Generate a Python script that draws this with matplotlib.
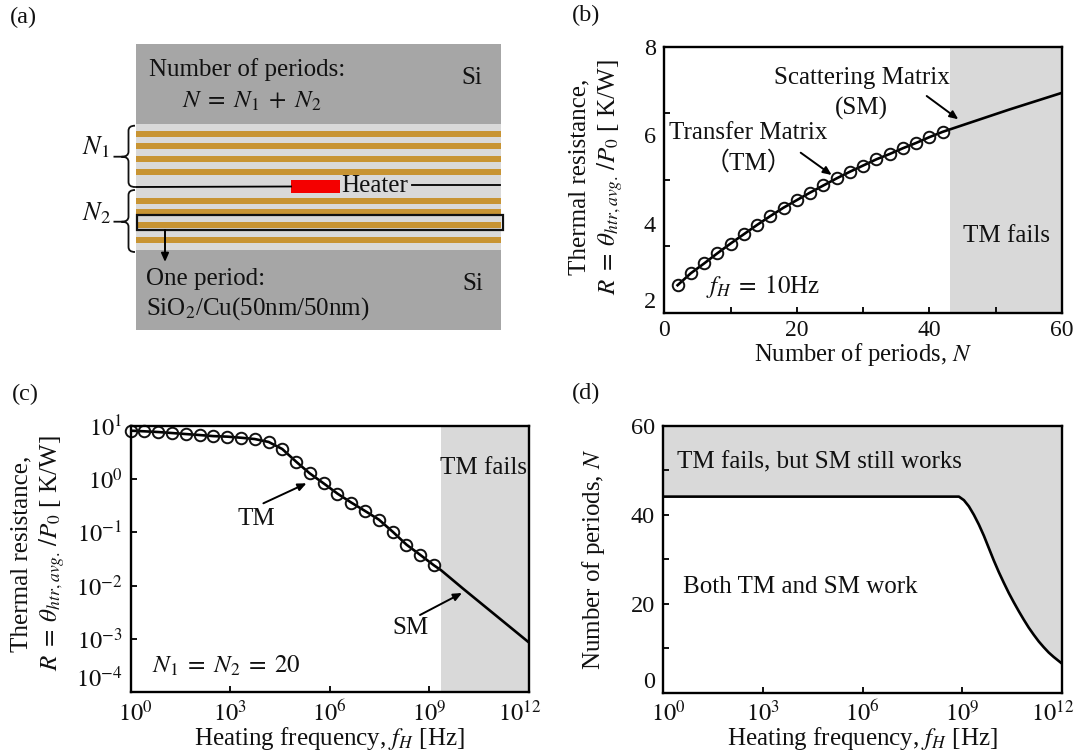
import numpy as np
import matplotlib
matplotlib.use("Agg")
import matplotlib.pyplot as plt
from matplotlib.patches import Rectangle, PathPatch
from matplotlib.path import Path
from matplotlib.transforms import ScaledTranslation

plt.rcParams['font.family'] = ['Liberation Serif', 'Noto Sans CJK SC', 'DejaVu Sans']
plt.rcParams['mathtext.fontset'] = 'stix'
plt.rcParams['axes.linewidth'] = 1.7

# ---- data ----
b_tm_N = [2, 4, 6, 8, 10, 12, 14, 16, 18, 20, 22, 24, 26, 28, 30, 32, 34, 36, 38, 40, 42]
b_tm_R = [2.62, 2.89, 3.11, 3.34, 3.56, 3.77, 3.98, 4.18, 4.37, 4.54, 4.71, 4.87, 5.03,
          5.18, 5.32, 5.46, 5.58, 5.71, 5.83, 5.96, 6.08]
b_sm_N = [43, 44, 48, 52, 56, 60]
b_sm_R = [6.13, 6.18, 6.38, 6.58, 6.77, 6.96]
b_fail_N = 43.1

c_tm_logf = [0.0, 0.42, 0.83, 1.25, 1.66, 2.08, 2.49, 2.91, 3.32, 3.74, 4.16, 4.57, 4.99,
             5.40, 5.82, 6.23, 6.65, 7.07, 7.48, 7.90, 8.31, 8.73, 9.14]
c_tm_logR = [0.912, 0.90, 0.887, 0.868, 0.849, 0.83, 0.81, 0.80, 0.78, 0.755, 0.70, 0.567, 0.328,
             0.108, -0.08, -0.27, -0.44, -0.60, -0.76, -0.99, -1.23, -1.425, -1.62]
c_sm_logf = [9.14, 9.35, 10.0, 11.0, 12.0]
c_sm_logR = [-1.62, -1.71, -2.05, -2.56, -3.07]
c_fail_logf = 9.35

d_logf = [0, 8.9, 9.05, 9.2, 9.35, 9.5, 9.65, 9.8, 9.95, 10.1, 10.25, 10.4, 10.55, 10.7,
          10.85, 11.0, 11.15, 11.3, 11.45, 11.6, 11.75, 11.9, 12.0]
d_N = [44.1, 44.1, 43.3, 41.9, 40.0, 37.8, 35.3, 32.5, 29.7, 27.1, 24.7, 22.4, 20.3, 18.3,
       16.4, 14.6, 13.0, 11.5, 10.2, 9.0, 8.0, 7.1, 6.5]

log_ticks = [0, 3, 6, 9, 12]
log_labels = ['$10^{0}$', '$10^{3}$', '$10^{6}$', '$10^{9}$', '$10^{12}$']
c_yticks = [1, 0, -1, -2, -3, -4]
c_ylabels = ['$10^{1}$', '$10^{0}$', '$10^{-1}$', '$10^{-2}$', '$10^{-3}$', '$10^{-4}$']

# diagram layout (a), in image pixels
gold_y = [134.3, 146.3, 159, 171.7, 200.7, 212, 225.3, 240]
GOLD, GREY, LIGHT = '#C89433', '#A6A6A6', '#D9D9D9'
SHADE = '#D9D9D9'

W, H = 1080, 756
fig = plt.figure(figsize=(W / 100, H / 100), dpi=100)
FS = 18
FST = 17.5
RLABEL = 'Thermal resistance,\n' + r'$R\;=\;\theta_{htr,avg.}\,/P_0$ [ K/W]'


def axpx(x0, x1, y0, y1):
    return fig.add_axes([x0 / W, 1 - y1 / H, (x1 - x0) / W, (y1 - y0) / H])


ov = fig.add_axes([0, 0, 1, 1], zorder=0)
ov.set_xlim(0, W); ov.set_ylim(H, 0); ov.axis('off')
top = fig.add_axes([0, 0, 1, 1], zorder=10)
top.set_xlim(0, W); top.set_ylim(H, 0); top.axis('off'); top.patch.set_alpha(0)


def T(x, y, s, ha='center', fs=FS, **kw):
    top.text(x, y, s, ha=ha, va='center', fontsize=fs, color='#111111', **kw)


def arrow(x0, y0, x1, y1, ax=top):
    ax.annotate('', xy=(x1, y1), xytext=(x0, y0),
                arrowprops=dict(arrowstyle='-|>,head_width=0.22,head_length=0.5', lw=1.4, color='k',
                                shrinkA=0, shrinkB=0))


def shift(label, dx=0, dy=0):
    label.set_transform(label.get_transform() + ScaledTranslation(dx / 100, -dy / 100, fig.dpi_scale_trans))


def style(ax):
    ax.tick_params(which='both', direction='in', length=4.5, width=1.4, labelsize=FST, pad=6, colors='#111111')
    for s in ax.spines.values():
        s.set_zorder(5)


# ---- (a) ----
ov.add_patch(Rectangle((136, 44), 365, 80, fc=GREY, ec='none'))
ov.add_patch(Rectangle((136, 124), 365, 126, fc=LIGHT, ec='none'))
ov.add_patch(Rectangle((136, 250), 365, 80, fc=GREY, ec='none'))
for y in gold_y:
    ov.add_patch(Rectangle((136, y - 2.9), 365, 5.8, fc=GOLD, ec='none'))
ov.add_patch(Rectangle((291, 179.5), 49, 13, fc='#F40000', ec='none'))
ov.plot([136, 291], [187, 186.5], color='k', lw=1.3)
ov.plot([411.5, 500], [185.3, 185.3], color='k', lw=1.3)
ov.add_patch(Rectangle((136.7, 215), 366, 15.3, fc='none', ec='#111111', lw=1.6))
arrow(165, 230, 165, 262, ov)


def brace(ytop, ybot, ytip):
    xr, xm, xl = 135, 128.5, 113.5
    verts = [(xr, ytop), (xm, ytop), (xm, ytop + 5), (xm, ytip - 5), (xm, ytip), (xl + 8, ytip), (xl, ytip),
             (xl + 8, ytip), (xm, ytip), (xm, ytip + 5), (xm, ybot - 5), (xm, ybot), (xr, ybot)]
    codes = [Path.MOVETO, Path.CURVE3, Path.CURVE3, Path.LINETO, Path.CURVE3, Path.CURVE3, Path.LINETO,
             Path.MOVETO, Path.CURVE3, Path.CURVE3, Path.LINETO, Path.CURVE3, Path.CURVE3]
    ov.add_patch(PathPatch(Path(verts, codes), fc='none', ec='#111111', lw=1.3))


brace(125.7, 187, 156.7)
brace(190, 252, 221.7)
T(96, 147, r'$\mathit{N}_{\mathit{1}}$', fs=19)
T(96, 213, r'$\mathit{N}_{\mathit{2}}$', fs=19)
T(149, 70, 'Number of periods:', ha='left')
T(182, 101, r'$N\;=\;N_1\;+\;N_2$', ha='left')
T(472, 78, 'Si')
T(473, 284, 'Si')
T(146, 279, 'One period:', ha='left')
T(146, 309, r'SiO$_2$/Cu(50nm/50nm)', ha='left')
T(341, 186, 'Heater', ha='left')

# ---- (b) ----
axb = axpx(664.3, 1062, 46.7, 312.7)
axb.axvspan(b_fail_N, 60, color=SHADE, lw=0, zorder=0)
axb.plot(b_tm_N + b_sm_N, b_tm_R + b_sm_R, color='k', lw=1.9, zorder=3, clip_on=True)
axb.plot(b_tm_N, b_tm_R, ls='none', marker='o', ms=8.3, mfc='none', mec='#111111', mew=1.4, zorder=4)
axb.set_xlim(0, 60); axb.set_ylim(2, 8)
axb.set_xticks([0, 10, 20, 30, 40, 50, 60], ['0', '', '20', '', '40', '', '60'])
axb.set_yticks([2, 4, 6, 8], ['2', '4', '6', '8'])
axb.set_yticks([3.5, 5, 6.5], minor=True)
style(axb)
axb.tick_params(axis='y', which='major', length=0)
axb.tick_params(axis='x', which='major', labelsize=17, pad=5)
axb.yaxis.get_ticklabels()[0].set_verticalalignment('bottom')
axb.set_xlabel('Number of periods, $N$', fontsize=17.7, labelpad=0.5, color='#111111')
axb.set_ylabel(RLABEL, fontsize=FS, color='#111111', linespacing=1.2)
axb.yaxis.set_label_coords(-0.10, 0.51)
T(861.7, 78, 'Scattering Matrix')
T(861.7, 108, '(SM)')
T(748, 133, 'Transfer Matrix')
T(748, 163, '（TM）')
T(763, 287, r'$f_H\;=\;10$Hz')
T(1006.7, 236, 'TM fails')
arrow(926.7, 96, 958.3, 119.3)
arrow(800.7, 152.7, 831.7, 175)

# ---- (c) ----
axc = axpx(130.5, 529, 426, 692)
axc.axvspan(10 ** c_fail_logf, 1e12, color=SHADE, lw=0, zorder=0)
cf = np.array(c_tm_logf + c_sm_logf[1:]); cr = np.array(c_tm_logR + c_sm_logR[1:])
axc.loglog(10 ** cf, 10 ** cr, color='k', lw=1.9, zorder=3)
axc.loglog(10 ** np.array(c_tm_logf), 10 ** np.array(c_tm_logR), ls='none', marker='o', ms=8.3, mfc='none',
           mec='#111111', mew=1.4, zorder=4, clip_on=False)
axc.set_xlim(1, 1e12); axc.set_ylim(1e-4, 10)
axc.set_xticks([10.0 ** v for v in log_ticks], log_labels)
axc.set_yticks([10.0 ** v for v in c_yticks], c_ylabels)
axc.minorticks_off()
style(axc)
axc.yaxis.get_ticklabels()[-1].set_verticalalignment('bottom')
xl = axc.xaxis.get_ticklabels()
shift(xl[0], dx=5); shift(xl[-1], dx=-9)
axc.set_xlabel('Heating frequency, $f_H$ [Hz]', fontsize=FS, labelpad=-1, color='#111111')
axc.set_ylabel(RLABEL, fontsize=FS, color='#111111', linespacing=1.2)
axc.yaxis.set_label_coords(-0.16, 0.52)
T(483, 468, 'TM fails')
T(256.5, 519, 'TM')
T(410, 628, 'SM')
T(226.6, 665.7, r'$N_1\;=\;N_2\;=\;20$')
arrow(263.4, 503.3, 306.5, 483.3)
arrow(420, 615, 462, 593)

# ---- (d) ----
axd = axpx(663, 1062, 426, 692.5)
dx_ = 10 ** np.array(d_logf)
axd.fill_between(dx_, d_N, 60, color=SHADE, lw=0, zorder=0)
axd.semilogx(dx_, d_N, color='k', lw=1.9, zorder=3)
axd.set_xlim(1, 1e12); axd.set_ylim(0, 60)
axd.set_xticks([10.0 ** v for v in log_ticks], log_labels)
axd.set_yticks([0, 10, 20, 30, 40, 50, 60], ['0', '', '20', '', '40', '', '60'])
axd.minorticks_off()
style(axd)
axd.yaxis.get_ticklabels()[0].set_verticalalignment('bottom')
xl = axd.xaxis.get_ticklabels()
shift(xl[0], dx=5); shift(xl[-1], dx=-9)
axd.set_xlabel('Heating frequency, $f_H$ [Hz]', fontsize=FS, labelpad=-1, color='#111111')
axd.set_ylabel('Number of periods, $N$', fontsize=FS, color='#111111')
axd.yaxis.set_label_coords(-0.14, 0.5)
T(819, 462, 'TM fails, but SM still works')
T(800, 587, 'Both TM and SM work')

# panel letters
T(10, 17, '(a)', ha='left', fs=17.5)
T(572, 15, '(b)', ha='left', fs=17.5)
T(12, 394, '(c)', ha='left', fs=17.5)
T(572, 393, '(d)', ha='left', fs=17.5)

fig.savefig('out.png', dpi=100)
